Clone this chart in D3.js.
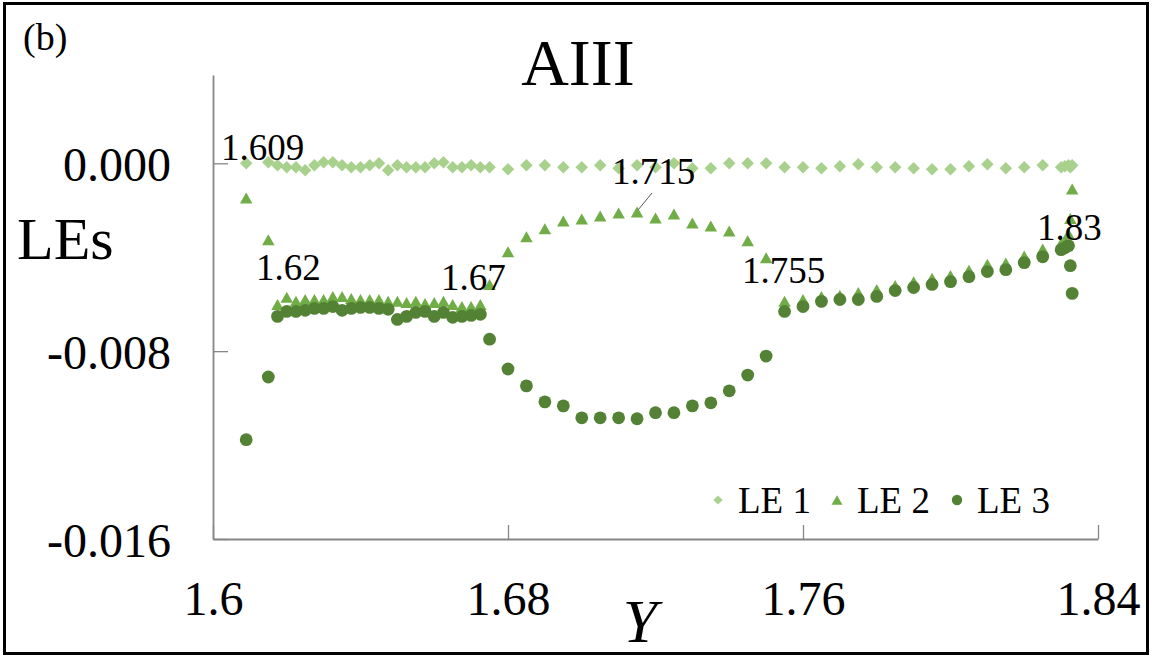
<!DOCTYPE html>
<html>
<head>
<meta charset="utf-8">
<script src="https://cdn.jsdelivr.net/npm/d3@7"></script>
<style>
  html, body { margin: 0; padding: 0; background: #fff; }
  svg { display: block; }
  text { font-family: "Liberation Serif", "Times New Roman", serif; fill: #000; }
</style>
</head>
<body>
<svg id="chart" width="1152" height="657"></svg>
<script>
// Control parameter Y and the three Lyapunov exponents computed at each value
const yValues = [
  1.609, 1.615,
  1.6175, 1.62, 1.6225, 1.625, 1.6275, 1.63, 1.6325, 1.635, 1.6375, 1.64, 1.6425, 1.645,
  1.6475, 1.65, 1.6525, 1.655, 1.6575, 1.66, 1.6625, 1.665, 1.6675, 1.67, 1.6725, 1.675,
  1.68, 1.685, 1.69, 1.695, 1.70, 1.705, 1.71, 1.715, 1.72, 1.725, 1.73, 1.735, 1.74, 1.745,
  1.75, 1.755, 1.76, 1.765, 1.77, 1.775, 1.78, 1.785, 1.79, 1.795, 1.80, 1.805, 1.81, 1.815,
  1.82, 1.825, 1.83, 1.831, 1.832, 1.8325, 1.833
];

const le1 = [
  0.00000, 0.00004,
  -0.00008, -0.00017, -0.00017, -0.00030, -0.00008, 0.00004, 0.00004, -0.00008, -0.00017, -0.00017,
  -0.00008, 0.00000, -0.00030, -0.00008, -0.00017, -0.00017, -0.00017, 0.00000, 0.00004, -0.00017,
  -0.00017, -0.00008, -0.00017, -0.00017,
  -0.00025, -0.00008, -0.00008, -0.00017, -0.00017, -0.00008, -0.00021, -0.00008, -0.00017, 0.00000,
  -0.00021, -0.00021, 0.00000, 0.00000, 0.00000, -0.00017, -0.00017, -0.00021, -0.00013, -0.00004,
  -0.00017, -0.00017, -0.00021, -0.00025, -0.00025, -0.00013, -0.00004, -0.00021, -0.00017, -0.00008,
  -0.00017, -0.00013, -0.00008, -0.00017, -0.00008
];

const le2 = [
  -0.00148, -0.00326,
  -0.00601, -0.00571, -0.00588, -0.00580, -0.00580, -0.00580, -0.00567, -0.00567, -0.00576, -0.00580,
  -0.00580, -0.00580, -0.00588, -0.00588, -0.00593, -0.00588, -0.00597, -0.00593, -0.00588, -0.00601,
  -0.00610, -0.00610, -0.00601,
  -0.00516,
  -0.00377, -0.00313, -0.00279, -0.00246, -0.00237, -0.00224, -0.00212, -0.00207, -0.00233, -0.00216,
  -0.00254, -0.00267, -0.00288, -0.00330, -0.00402, -0.00588,
  -0.00580, -0.00567, -0.00562, -0.00550, -0.00537, -0.00520, -0.00505, -0.00490, -0.00478, -0.00455,
  -0.00430, -0.00425, -0.00395, -0.00365, -0.00340,
  -0.00330, -0.00300, -0.00235, -0.00110
];

const le3 = [
  -0.01177, -0.00910,
  -0.00652, -0.00631, -0.00631, -0.00626, -0.00618, -0.00618, -0.00610, -0.00626, -0.00618, -0.00614,
  -0.00614, -0.00618, -0.00622, -0.00665, -0.00652, -0.00635, -0.00631, -0.00652, -0.00635, -0.00656,
  -0.00652, -0.00648, -0.00643,
  -0.00749,
  -0.00876, -0.00948, -0.01016, -0.01033, -0.01084, -0.01084, -0.01084, -0.01088, -0.01062, -0.01062,
  -0.01033, -0.01020, -0.00969, -0.00902, -0.00821, -0.00631,
  -0.00610, -0.00588, -0.00580, -0.00580, -0.00567, -0.00542, -0.00529, -0.00516, -0.00504, -0.00483,
  -0.00461, -0.00453, -0.00423, -0.00398, -0.00368,
  -0.00360, -0.00351, -0.00436, -0.00554
];

const seriesNames = ["LE 1", "LE 2", "LE 3"];
const xTicks = [1.6, 1.68, 1.76, 1.84];
const xTickLabels = ["1.6", "1.68", "1.76", "1.84"];
const leTicks = [0, -0.008, -0.016];
const leTickLabels = ["0.000", "-0.008", "-0.016"];
const bifurcationLabels = ["1.609", "1.62", "1.67", "1.715", "1.755", "1.83"];

// ---- layout & styles ----
const svg = d3.select("#chart");
const colors = ["#A9D18E", "#70AD47", "#548235"];
const axisColor = "#868686";

const x = d3.scaleLinear().domain([1.6, 1.84]).range([213, 1098]);
const y = d3.scaleLinear().domain([-0.016, 0.00376]).range([539, 75]);

// outer frame
svg.append("rect")
  .attr("x", 4.5).attr("y", 3.5).attr("width", 1143).attr("height", 650)
  .attr("fill", "#fff").attr("stroke", "#000").attr("stroke-width", 3);

// axes
const xAxis = d3.axisBottom(x)
  .tickValues(xTicks)
  .tickFormat((d, i) => xTickLabels[i])
  .tickSizeInner(-14).tickSizeOuter(0).tickPadding(42);
const yAxis = d3.axisLeft(y)
  .tickValues(leTicks)
  .tickFormat((d, i) => leTickLabels[i])
  .tickSizeInner(-15).tickSizeOuter(0).tickPadding(42);

const gx = svg.append("g").attr("transform", `translate(0,${y(-0.016)})`).call(xAxis);
const gy = svg.append("g").attr("transform", `translate(${x(1.6)},0)`).call(yAxis);
[gx, gy].forEach(g => {
  g.attr("font-family", null);
  g.select(".domain").attr("stroke", axisColor).attr("stroke-width", 1.8);
  g.selectAll(".tick line").attr("stroke", axisColor).attr("stroke-width", 1.3);
  g.selectAll(".tick text").attr("font-size", 48).attr("fill", "#000");
});
gy.selectAll(".tick text").attr("dy", "0.36em");

// markers
const diamond = d3.symbol().type(d3.symbolSquare).size(78)();
const circle = d3.symbol().type(d3.symbolCircle).size(Math.PI * 6.4 * 6.4)();
function trianglePath(w, h) {
  return `M0,${-h / 2}L${w / 2},${h / 2}L${-w / 2},${h / 2}Z`;
}
const triangle = trianglePath(12.5, 11);

const pts = (vals) => yValues.map((v, i) => ({ Y: v, le: vals[i] }));

svg.append("g").selectAll("path").data(pts(le1)).join("path")
  .attr("d", diamond)
  .attr("transform", d => `translate(${x(d.Y)},${y(d.le)}) rotate(45)`)
  .attr("fill", colors[0]);

svg.append("g").selectAll("path").data(pts(le2)).join("path")
  .attr("d", triangle)
  .attr("transform", d => `translate(${x(d.Y)},${y(d.le)})`)
  .attr("fill", colors[1]);

svg.append("g").selectAll("path").data(pts(le3)).join("path")
  .attr("d", circle)
  .attr("transform", d => `translate(${x(d.Y)},${y(d.le)})`)
  .attr("fill", colors[2]);

// bifurcation point annotations
const notes = svg.append("g").attr("font-size", 37);
const notePos = [[221, 160], [256, 280], [441, 290], [612, 184], [742, 283], [1037, 240]];
bifurcationLabels.forEach((t, i) => {
  notes.append("text").attr("x", notePos[i][0]).attr("y", notePos[i][1]).text(t);
});
// leader line to the LE 2 maximum at Y = 1.715
const iPeak = yValues.indexOf(1.715);
const px = x(yValues[iPeak]), py = y(le2[iPeak]);
svg.append("line")
  .attr("x1", px + 15).attr("y1", py - 19)
  .attr("x2", px + 1).attr("y2", py - 2)
  .attr("stroke", "#595959").attr("stroke-width", 1);

// titles
svg.append("text").attr("x", 23).attr("y", 50).attr("font-size", 38).text("(b)");
svg.append("text").attr("x", 578).attr("y", 85).attr("text-anchor", "middle")
  .attr("font-size", 66).text("AIII");
svg.append("text").attr("x", 17).attr("y", 259).attr("font-size", 60).text("LEs");
svg.append("text").attr("x", 640).attr("y", 642).attr("text-anchor", "middle")
  .attr("font-size", 62).attr("font-style", "italic").text("Y");

// legend
const legend = svg.append("g").attr("font-size", 37);
const legendX = [718, 837, 957];
const legendShapes = [
  d3.symbol().type(d3.symbolSquare).size(42)(),
  trianglePath(11, 9.5),
  d3.symbol().type(d3.symbolCircle).size(Math.PI * 5.2 * 5.2)()
];
seriesNames.forEach((name, i) => {
  legend.append("path")
    .attr("d", legendShapes[i])
    .attr("transform", `translate(${legendX[i]},500)` + (i === 0 ? " rotate(45)" : ""))
    .attr("fill", colors[i]);
  legend.append("text").attr("x", legendX[i] + 20).attr("y", 513).text(name);
});
</script>
</body>
</html>
